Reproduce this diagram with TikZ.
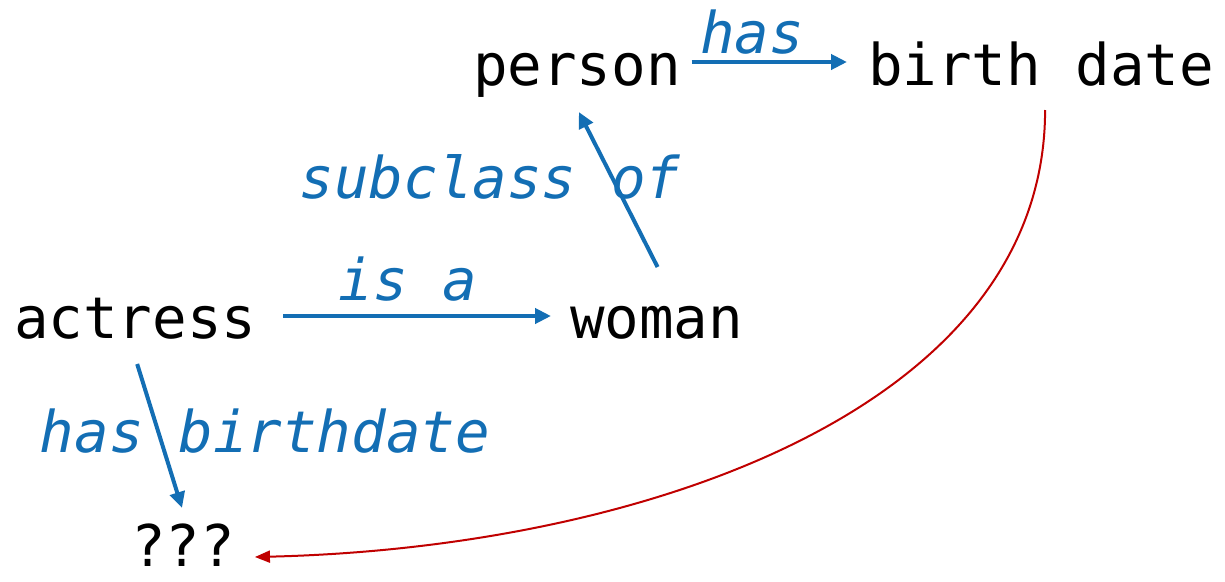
\documentclass[tikz,border=0pt]{standalone}
\usepackage{fontspec}
\setmonofont{DejaVu Sans Mono}
\usepackage{tikz}
\usetikzlibrary{positioning,arrows.meta}
\definecolor{linkblue}{RGB}{19,110,180}
\definecolor{darkred}{RGB}{192,0,0}

\begin{document}
\begin{tikzpicture}[
x=1pt, y=-1pt,
termnode/.style={inner sep=0pt, outer sep=0pt, text height=44pt, text depth=14pt,
  font=\ttfamily\fontsize{57.5}{60}\selectfont},
relnode/.style={termnode, text=linkblue, font=\ttfamily\itshape\fontsize{57.5}{60}\selectfont},
relarrow/.style={draw=linkblue, line width=4pt, -{Triangle[length=16pt,width=15pt]}},
inferarrow/.style={draw=darkred, line width=2pt, -{Triangle[length=15pt,width=12pt]}},
]
\useasboundingbox (0,0) rectangle (1225,581);

%Nodes
\node[termnode, anchor=base west] (person)  at (473,85)  {person};
\node[termnode, anchor=base west] (birth)   at (868,85)  {birth date};
\node[termnode, anchor=base west] (actress) at (14,338)  {actress};
\node[termnode, anchor=base west] (woman)   at (570,338) {woman};
\node[termnode, text depth=0pt, anchor=base] (unknown) at (183,566) {???};

%Labels
\node[relnode, anchor=base] (hasrel)      at (752,53)  {has};
\node[relnode, anchor=base] (subclassrel) at (490,198) {subclass of};
\node[relnode, anchor=base] (isarel)      at (408,300) {is a};
\node[relnode, anchor=base] (birthrel)    at (265,452) {has birthdate};

%Lines
\draw[relarrow] ([shift={(11,-8)}]person.east) -- ([shift={(-21,-8)}]birth.west);
\draw[relarrow] ([shift={(27,-7)}]actress.east) -- ([shift={(-19,-7)}]woman.west);
\draw[relarrow] ([shift={(1,-27)}]woman.north) -- ([shift={(2,13)}]person.south);
\draw[relarrow] ([shift={(2,12)}]actress.south) -- ([shift={(-1,-14)}]unknown.north);
\draw[inferarrow] ([shift={(4,11)}]birth.south) .. controls (1045,410) and (640,548) .. ([shift={(20,13)}]unknown.east);
\end{tikzpicture}
\end{document}
